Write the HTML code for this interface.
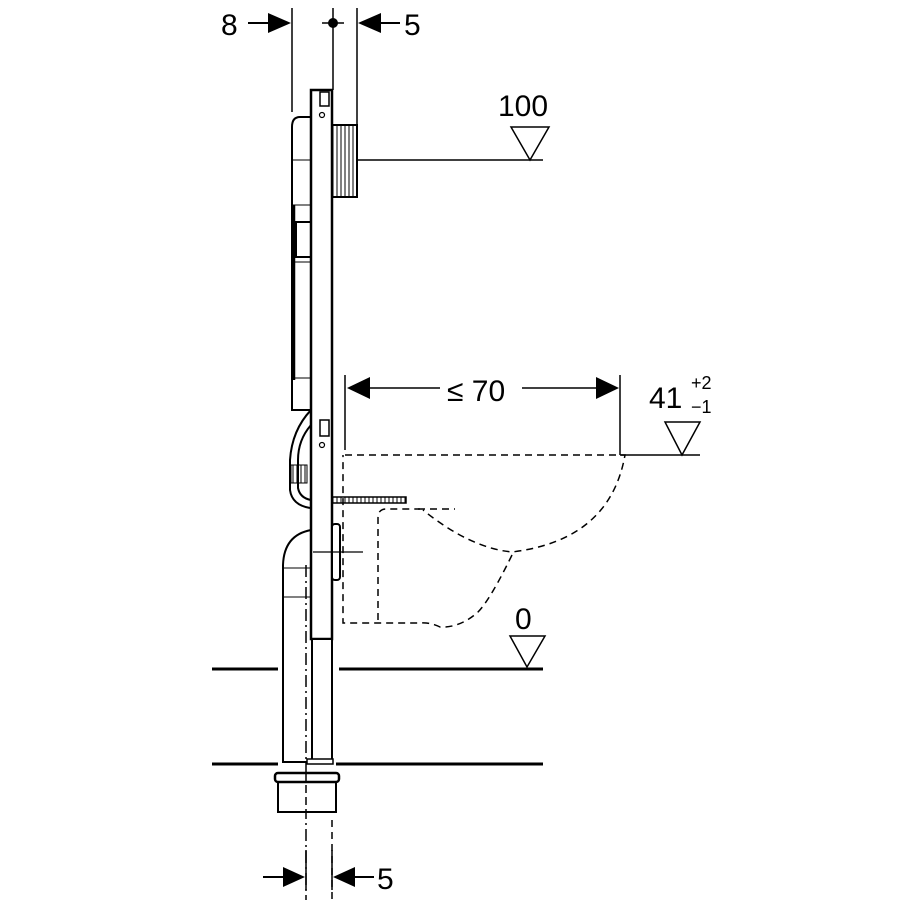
<!DOCTYPE html>
<html><head><meta charset="utf-8"><style>body{margin:0;background:#fff}svg{display:block}text{font-family:"Liberation Sans",sans-serif;fill:#000}</style></head><body>
<svg width="900" height="900" viewBox="0 0 900 900" xmlns="http://www.w3.org/2000/svg">
<defs>
<pattern id="h" width="4" height="4" patternUnits="userSpaceOnUse"><line x1="1" y1="0" x2="1" y2="4" stroke="#000" stroke-width="1"/></pattern>
</defs>
<g fill="none" stroke="#000" stroke-width="2">
<line x1="292" y1="8" x2="292" y2="112" stroke-width="1.5"/>
<line x1="333" y1="8" x2="333" y2="90" stroke-width="1.5"/>
<line x1="357" y1="8" x2="357" y2="125" stroke-width="1.5"/>
<line x1="322" y1="23" x2="344" y2="23" stroke-width="1.5"/>
<line x1="248" y1="23" x2="270" y2="23"/>
<line x1="380" y1="23" x2="400" y2="23"/>
</g>
<circle cx="333" cy="23" r="5"/>
<polygon points="268,13 291,23 268,33"/>
<polygon points="381,13 358,23 381,33"/>
<text x="221" y="35" font-size="30">8</text>
<text x="404" y="35" font-size="30">5</text>

<g fill="#fff" stroke="#000" stroke-width="2">
<path d="M311,117 L300,117 Q292,117 292,127 L292,410 L311,410 Z"/>
<line x1="292" y1="160" x2="311" y2="160" stroke-width="1"/>
<line x1="292" y1="205" x2="311" y2="205" stroke-width="1"/>
<rect x="296" y="222" width="15" height="35" stroke-width="2"/>
<line x1="292" y1="262" x2="311" y2="262" stroke-width="1"/>
<line x1="292" y1="378" x2="311" y2="378" stroke-width="1"/>
<line x1="294" y1="205" x2="294" y2="380" stroke-width="2.5"/>
</g>
<path d="M311,410 Q292,430 290,460 L290,490 Q292,505 310,508" fill="none" stroke="#000" stroke-width="2"/>
<path d="M311,425 Q298,440 298,460 L298,488 Q300,498 311,500" fill="none" stroke="#000" stroke-width="2"/>
<rect x="291" y="465" width="16" height="18" fill="url(#h)" stroke="#000" stroke-width="1"/>

<path d="M311,530 Q284,535 283,565 L283,762 L311,762" fill="#fff" stroke="#000" stroke-width="2"/>
<line x1="283" y1="568" x2="311" y2="568" stroke="#000" stroke-width="1"/>
<line x1="283" y1="597" x2="311" y2="597" stroke="#000" stroke-width="1"/>

<rect x="311" y="90" width="21" height="549" fill="#fff" stroke="#000" stroke-width="2.5"/>
<rect x="312" y="639" width="20" height="122" fill="#fff" stroke="#000" stroke-width="2"/>
<rect x="307" y="759" width="26" height="5" fill="#fff" stroke="#000" stroke-width="1.5"/>
<rect x="320" y="92" width="9" height="14" fill="none" stroke="#000" stroke-width="1.5"/>
<circle cx="322" cy="115" r="2.5" fill="none" stroke="#000" stroke-width="1.2"/>
<rect x="320" y="420" width="9" height="16" fill="none" stroke="#000" stroke-width="1.5"/>
<circle cx="322" cy="445" r="2.5" fill="none" stroke="#000" stroke-width="1.2"/>

<rect x="332" y="125" width="25" height="72" fill="url(#h)" stroke="#000" stroke-width="2"/>
<line x1="357" y1="160" x2="543" y2="160" stroke="#000" stroke-width="1.5"/>
<polygon points="511,127 549,127 530,160" fill="none" stroke="#000" stroke-width="1.5"/>
<text x="498" y="116" font-size="30">100</text>

<g stroke="#000" stroke-width="1.5" fill="none">
<line x1="345" y1="375" x2="345" y2="450"/>
<line x1="620" y1="375" x2="620" y2="455"/>
<line x1="370" y1="388" x2="440" y2="388"/>
<line x1="522" y1="388" x2="598" y2="388"/>
<line x1="620" y1="455" x2="700" y2="455"/>
<polygon points="665,422 700,422 682,455"/>
<polygon points="510,636 545,636 527,667"/>
</g>
<polygon points="370,377 347,388 370,399"/>
<polygon points="596,377 619,388 596,399"/>
<text x="447" y="401" font-size="30">≤ 70</text>
<text x="649" y="408" font-size="30">41</text>
<text x="691" y="389" font-size="18">+2</text>
<text x="691" y="413" font-size="18">−1</text>
<text x="515" y="629" font-size="30">0</text>

<g fill="none" stroke="#000" stroke-width="1.5" stroke-dasharray="7,5">
<path d="M345,455 L625,455 Q610,540 512,552 Q470,548 423,510"/>
<line x1="418" y1="509" x2="455" y2="509"/>
<path d="M378,620 L378,518 Q378,509 386,509 L420,509"/>
<path d="M512,555 Q490,600 478,612 Q460,628 440,627 Q430,622 420,623 L343,623 L343,455"/>
<line x1="306" y1="565" x2="306" y2="900" stroke-dasharray="12,4,2,4"/>
<line x1="332" y1="820" x2="332" y2="900"/>
</g>

<rect x="332" y="497" width="74" height="6" fill="url(#h)" stroke="#000" stroke-width="1.5"/>
<rect x="332" y="524" width="8" height="56" rx="3" fill="#fff" stroke="#000" stroke-width="2"/>
<line x1="313" y1="552" x2="363" y2="552" stroke="#000" stroke-width="1.2"/>

<g stroke="#000" stroke-width="3">
<line x1="212" y1="669" x2="278" y2="669"/>
<line x1="339" y1="669" x2="543" y2="669"/>
<line x1="212" y1="764" x2="278" y2="764"/>
<line x1="336" y1="764" x2="543" y2="764"/>
</g>
<rect x="278" y="780" width="58" height="32" fill="#fff" stroke="#000" stroke-width="2"/>
<rect x="275" y="773" width="64" height="9" rx="3" fill="#fff" stroke="#000" stroke-width="2.5"/>
<line x1="306" y1="773" x2="306" y2="812" stroke="#000" stroke-width="1.5" stroke-dasharray="8,4"/>

<line x1="306" y1="850" x2="306" y2="890" stroke="#000" stroke-width="1.5"/>
<line x1="332" y1="850" x2="332" y2="890" stroke="#000" stroke-width="1.5"/>
<line x1="263" y1="877" x2="285" y2="877" stroke="#000" stroke-width="2"/>
<line x1="354" y1="877" x2="374" y2="877" stroke="#000" stroke-width="2"/>
<polygon points="283,867 305,877 283,887"/>
<polygon points="355,867 333,877 355,887"/>
<text x="377" y="889" font-size="30">5</text>
</svg>
</body></html>
